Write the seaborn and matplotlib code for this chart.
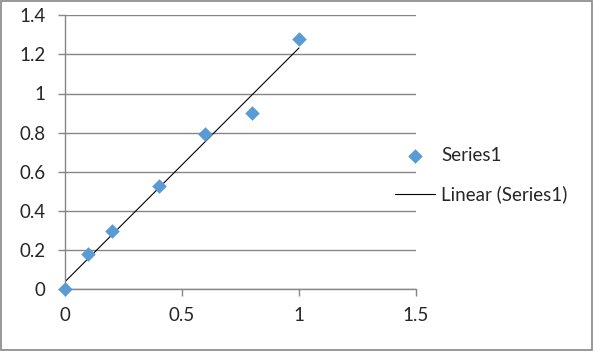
import numpy as np
import pandas as pd
import matplotlib
matplotlib.use("Agg")
import matplotlib.pyplot as plt
from matplotlib.patches import Rectangle
import seaborn as sns

x_vals = [0, 0.1, 0.2, 0.4, 0.6, 0.8, 1.0]
y_vals = [0, 0.178, 0.297, 0.526, 0.792, 0.898, 1.277]
series_name = "Series1"
trend_name = "Linear (Series1)"

df = pd.DataFrame({"x": x_vals, "y": y_vals})

sns.set_style("white")
plt.rcParams["font.family"] = ["Lato", "DejaVu Sans"]

fig = plt.figure(figsize=(5.93, 3.51), dpi=100)
ax = fig.add_axes([65 / 593, 1 - 289 / 351, 351 / 593, (289 - 15.3) / 351])

grid_c = "#868686"
blue = "#5B9BD5"
fs = 13.5

# trendline (least squares, like Excel's linear trendline)
sns.regplot(data=df, x="x", y="y", ax=ax, ci=None, scatter=False,
            line_kws={"color": "black", "lw": 0.8, "zorder": 2}, label=trend_name)
sns.scatterplot(data=df, x="x", y="y", ax=ax, marker="D", s=55, color=blue,
                edgecolor=blue, linewidth=0, zorder=3, label=series_name)

ax.set_xlim(0, 1.5)
ax.set_ylim(0, 1.4)
ax.set_xticks([0, 0.5, 1, 1.5])
ax.set_xticklabels(["0", "0.5", "1", "1.5"])
ax.set_yticks([0, 0.2, 0.4, 0.6, 0.8, 1.0, 1.2, 1.4])
ax.set_yticklabels(["0", "0.2", "0.4", "0.6", "0.8", "1", "1.2", "1.4"])
ax.set_xlabel("")
ax.set_ylabel("")

ax.yaxis.grid(True, color=grid_c, lw=1)
ax.set_axisbelow(True)
for s in ["right", "top"]:
    ax.spines[s].set_visible(False)
for s in ["left", "bottom"]:
    ax.spines[s].set_color(grid_c)
    ax.spines[s].set_linewidth(1)
ax.tick_params(axis="x", direction="out", length=5, width=1, color=grid_c,
               pad=8, labelsize=fs, bottom=True)
ax.tick_params(axis="y", direction="out", length=5, width=1, color=grid_c,
               pad=9, labelsize=fs, left=True)
ax.patch.set_alpha(0)
for c in ax.collections:
    c.set_clip_on(False)

handles, labels = ax.get_legend_handles_labels()
order = [labels.index(series_name), labels.index(trend_name)]
ax.legend([handles[i] for i in order], [labels[i] for i in order],
          loc="center left", bbox_to_anchor=(395 / 593, 1 - 175 / 351),
          bbox_transform=fig.transFigure, frameon=False, borderpad=0,
          borderaxespad=0, handlelength=2.13, handletextpad=0.32,
          labelspacing=1.15, fontsize=fs)

fig.patches.append(Rectangle((0.001, 0.002), 0.997, 0.995, transform=fig.transFigure,
                             fill=False, edgecolor=grid_c, lw=1.2))

fig.savefig("out.png", dpi=100)
